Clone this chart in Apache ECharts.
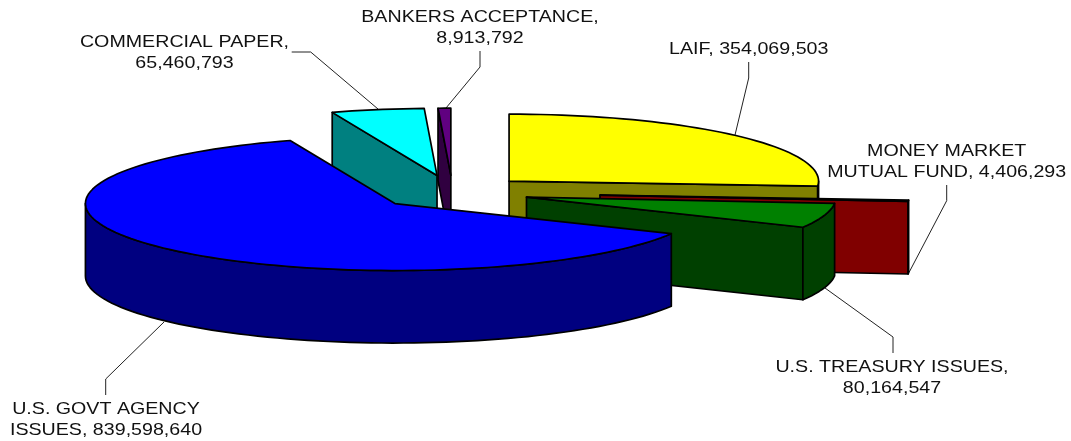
<!DOCTYPE html>
<html>
<head>
<meta charset="utf-8">
<style>html,body{margin:0;padding:0;background:#fff}#main{width:1071px;height:441px}</style>
<script src="https://cdn.jsdelivr.net/npm/echarts@6/dist/echarts.min.js"></script>
</head>
<body>
<div id="main"></div>
<script>
// pie order, clockwise from 12 o'clock
var categories = ['LAIF', 'MONEY MARKET\nMUTUAL FUND', 'U.S. TREASURY ISSUES', 'U.S. GOVT AGENCY\nISSUES', 'COMMERCIAL PAPER', 'BANKERS ACCEPTANCE'];
var values = [354069503, 4406293, 80164547, 839598640, 65460793, 8913792];
var labelBreak = [', ', ', ', ',\n', ', ', ',\n', ',\n'];

var topColors = ['#ffff00', '#800000', '#008000', '#0000ff', '#00ffff', '#600080'];
var sideColors = ['#808000', '#800000', '#004000', '#000080', '#008080', '#300040'];
var explode = [77.2, 148, 77, 76.9, 80.5, 80];
// back to front
var drawOrder = [0, 4, 5, 1, 2, 3];

var labelPos = [[748.7, 49.5], [946.7, 162], [892, 378], [106, 420], [184.5, 53], [480, 27.5]];
var leaders = [
    [[735, 135], [748.7, 78], [748.7, 62]],
    [[909, 272.5], [946.7, 200.7], [946.7, 185]],
    [[825, 288], [893, 337], [893, 353]],
    [[164, 322], [105.7, 379], [105.7, 395]],
    [[291.7, 52], [310.7, 52], [378, 109]],
    [[480, 51], [480, 67], [446, 108]]
];

var cx = 452.5, cy = 192.5, rx = 309.5, ry = 67, depth = 72.5;
var total = values.reduce(function (a, b) { return a + b; }, 0);
var rad = Math.PI / 180;

function startAngle(i) {
    var s = 0;
    for (var k = 0; k < i; k++) s += values[k];
    return s / total * 360;
}

function arcPts(o, a0, a1, dy) {
    var pts = [], n = Math.max(2, Math.ceil((a1 - a0) / 2));
    for (var k = 0; k <= n; k++) {
        var a = (a0 + (a1 - a0) * k / n) * rad;
        pts.push([o[0] + rx * Math.sin(a), o[1] - ry * Math.cos(a) + dy]);
    }
    return pts;
}

function poly(points, fill) {
    return {
        type: 'polygon',
        shape: { points: points },
        style: { fill: fill, stroke: '#000', lineWidth: 1.7, lineJoin: 'round' }
    };
}

function cutFace(o, a, fill) {
    var e = arcPts(o, a, a, 0)[0];
    return poly([o, e, [e[0], e[1] + depth], [o[0], o[1] + depth]], fill);
}

function renderSlice(params, api) {
    var i = api.value(0);
    var a0 = startAngle(i);
    var a1 = a0 + api.value(1) / total * 360;
    var mid = (a0 + a1) / 2 * rad;
    var o = [cx + explode[i] * Math.sin(mid), cy - explode[i] * ry / rx * Math.cos(mid)];
    var kids = [];

    kids.push({
        type: 'polyline',
        shape: { points: leaders[i] },
        style: { fill: 'none', stroke: '#222', lineWidth: 1 }
    });
    if (a0 > 180) kids.push(cutFace(o, a0, sideColors[i]));
    if (a1 < 180) kids.push(cutFace(o, a1, sideColors[i]));
    // outer wall, front half only
    var w0 = Math.max(a0, 90), w1 = Math.min(a1, 270);
    if (w1 > w0) {
        kids.push(poly(arcPts(o, w0, w1, 0).concat(arcPts(o, w0, w1, depth).reverse()), sideColors[i]));
    }
    kids.push(poly([o].concat(arcPts(o, a0, a1, 0)), topColors[i]));
    // reference text is stretched sideways, hence scaleX
    kids.push({
        type: 'text',
        x: labelPos[i][0],
        y: labelPos[i][1],
        scaleX: 1.155,
        style: {
            text: categories[i] + labelBreak[i] + values[i].toLocaleString('en-US'),
            fill: '#111',
            font: '17px "Liberation Sans"',
            align: 'center',
            verticalAlign: 'middle',
            lineHeight: 21
        }
    });
    return { type: 'group', children: kids };
}

var chart = echarts.init(document.getElementById('main'));
chart.setOption({
    animation: false,
    backgroundColor: '#fff',
    series: [{
        type: 'custom',
        coordinateSystem: 'none',
        renderItem: renderSlice,
        data: drawOrder.map(function (i) { return [i, values[i]]; })
    }]
});
</script>
</body>
</html>
